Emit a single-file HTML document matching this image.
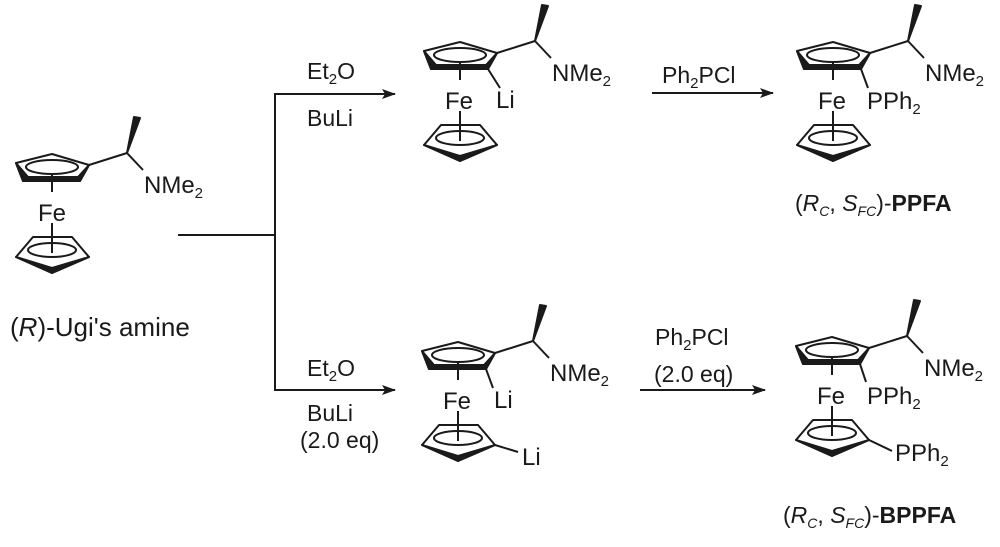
<!DOCTYPE html>
<html><head><meta charset="utf-8"><style>
html,body{margin:0;padding:0;background:#fff}
svg text{font-family:"Liberation Sans",Arial,sans-serif;fill:#1a1a1a}
</style></head><body>
<svg width="1000" height="542" viewBox="0 0 1000 542" xmlns="http://www.w3.org/2000/svg">
<defs>
<g id="fc" stroke="#1a1a1a" stroke-width="2" fill="none" stroke-linejoin="round">
  <polygon points="0,-13 37,-2 28,14 -29,14 -36,-4"/>
  <polygon points="-36,-4 -29,14 28,14 37,-2 26,10 -24,10" fill="#1a1a1a"/>
  <ellipse cx="0" cy="0" rx="26" ry="7"/>
  <line x1="0" y1="6" x2="0" y2="25"/>
  <line x1="0" y1="56" x2="0" y2="86"/>
  <polygon points="-19,70 20,70 37,90 0,106 -36,90"/>
  <polygon points="-36,90 0,106 37,90 0,101" fill="#1a1a1a"/>
  <ellipse cx="0" cy="83" rx="24" ry="7"/>
  <line x1="37" y1="-2" x2="75" y2="-14"/>
  <polygon points="75,-14 82,-50 88,-49" fill="#1a1a1a"/>
  <line x1="75" y1="-14" x2="91" y2="3"/>
</g>
<marker id="ah" markerWidth="14" markerHeight="10" refX="13" refY="5" orient="auto" markerUnits="userSpaceOnUse">
  <polygon points="0,0 14,5 0,10 3,5" fill="#1a1a1a"/>
</marker>
</defs>

<use href="#fc" x="52" y="167"/>
<text x="38" y="221" font-size="24">Fe</text>
<text x="144" y="193" font-size="24">NMe<tspan font-size="15" dy="5">2</tspan></text>
<text x="10" y="336" font-size="26">(<tspan font-style="italic">R</tspan>)-Ugi's amine</text>

<g stroke="#1a1a1a" stroke-width="2" fill="none">
<line x1="178" y1="235" x2="275" y2="235"/>
<line x1="275" y1="94" x2="275" y2="391"/>
<line x1="274" y1="94" x2="395" y2="94" marker-end="url(#ah)"/>
<line x1="274" y1="390" x2="395" y2="390" marker-end="url(#ah)"/>
<line x1="652" y1="93" x2="773" y2="93" marker-end="url(#ah)"/>
<line x1="640" y1="390" x2="765" y2="390" marker-end="url(#ah)"/>
</g>
<text x="307" y="79" font-size="23">Et<tspan font-size="15" dy="5">2</tspan><tspan dy="-5">O</tspan></text>
<text x="307" y="126" font-size="23">BuLi</text>
<text x="307" y="376" font-size="23">Et<tspan font-size="15" dy="5">2</tspan><tspan dy="-5">O</tspan></text>
<text x="307" y="421" font-size="23">BuLi</text>
<text x="300" y="448" font-size="23">(2.0 eq)</text>
<text x="662" y="83" font-size="23">Ph<tspan font-size="15" dy="5">2</tspan><tspan dy="-5">PCl</tspan></text>
<text x="655" y="345" font-size="23">Ph<tspan font-size="15" dy="5">2</tspan><tspan dy="-5">PCl</tspan></text>
<text x="654" y="382" font-size="23">(2.0 eq)</text>

<use href="#fc" x="460" y="55"/>
<text x="445" y="109" font-size="24">Fe</text>
<text x="552" y="81" font-size="24">NMe<tspan font-size="15" dy="5">2</tspan></text>
<line x1="488" y1="69" x2="500" y2="88" stroke="#1a1a1a" stroke-width="2"/>
<text x="496" y="108" font-size="24">Li</text>

<use href="#fc" x="833" y="55"/>
<text x="818" y="109" font-size="24">Fe</text>
<text x="925" y="81" font-size="24">NMe<tspan font-size="15" dy="5">2</tspan></text>
<line x1="861" y1="69" x2="868" y2="88" stroke="#1a1a1a" stroke-width="2"/>
<text x="867" y="109" font-size="24">PPh<tspan font-size="15" dy="5">2</tspan></text>
<text x="795" y="211" font-size="23">(<tspan font-style="italic">R</tspan><tspan font-size="14" font-style="italic" dy="5">C</tspan><tspan dy="-5">, </tspan><tspan font-style="italic">S</tspan><tspan font-size="14" font-style="italic" dy="5">FC</tspan><tspan dy="-5">)-</tspan><tspan font-weight="bold">PPFA</tspan></text>

<use href="#fc" x="458" y="355"/>
<text x="443" y="409" font-size="24">Fe</text>
<text x="550" y="381" font-size="24">NMe<tspan font-size="15" dy="5">2</tspan></text>
<line x1="486" y1="369" x2="493" y2="388" stroke="#1a1a1a" stroke-width="2"/>
<text x="494" y="408" font-size="24">Li</text>
<line x1="495" y1="445" x2="518" y2="452" stroke="#1a1a1a" stroke-width="2"/>
<text x="522" y="465" font-size="24">Li</text>

<use href="#fc" x="832" y="350"/>
<text x="817" y="404" font-size="24">Fe</text>
<text x="924" y="376" font-size="24">NMe<tspan font-size="15" dy="5">2</tspan></text>
<line x1="860" y1="364" x2="866" y2="382" stroke="#1a1a1a" stroke-width="2"/>
<text x="867" y="404" font-size="24">PPh<tspan font-size="15" dy="5">2</tspan></text>
<line x1="869" y1="440" x2="892" y2="451" stroke="#1a1a1a" stroke-width="2"/>
<text x="895" y="461" font-size="24">PPh<tspan font-size="15" dy="5">2</tspan></text>
<text x="783" y="523" font-size="23">(<tspan font-style="italic">R</tspan><tspan font-size="14" font-style="italic" dy="5">C</tspan><tspan dy="-5">, </tspan><tspan font-style="italic">S</tspan><tspan font-size="14" font-style="italic" dy="5">FC</tspan><tspan dy="-5">)-</tspan><tspan font-weight="bold">BPPFA</tspan></text>
</svg>
</body></html>
